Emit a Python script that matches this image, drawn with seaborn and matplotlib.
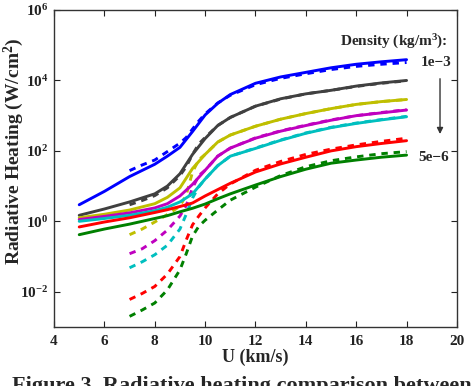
import numpy as np
import pandas as pd
import matplotlib
matplotlib.use("Agg")
import matplotlib.pyplot as plt
import seaborn as sns

# === Data (log10 of radiative heating, W/cm^2) ===
densities = ["1e-3", "5e-4", "2e-4", "1e-4", "5e-5", "1e-5", "5e-6"]
colors = ["#0000ff", "#404040", "#bfbf00", "#bf00bf", "#00bfbf", "#ff0000", "#008000"]

u_solid = [5, 6, 7, 8, 8.5, 9, 9.5, 10, 10.5, 11, 12, 13, 14, 15, 16, 17, 18]
solid_blue = [0.47, 0.85, 1.27, 1.62, 1.85, 2.1, 2.55, 3.02, 3.35, 3.6, 3.92, 4.1, 4.23, 4.36, 4.46, 4.53, 4.59]
solid_gray = [0.17, 0.35, 0.55, 0.78, 1.0, 1.35, 1.9, 2.35, 2.72, 2.95, 3.27, 3.48, 3.62, 3.72, 3.84, 3.93, 4.0]
solid_yellow = [0.1, 0.2, 0.32, 0.5, 0.68, 0.95, 1.5, 1.9, 2.25, 2.45, 2.7, 2.9, 3.06, 3.2, 3.32, 3.4, 3.46]
solid_magenta = [0.05, 0.14, 0.24, 0.38, 0.5, 0.72, 1.05, 1.45, 1.85, 2.08, 2.36, 2.56, 2.72, 2.87, 3.0, 3.08, 3.16]
solid_cyan = [0.0, 0.08, 0.17, 0.3, 0.4, 0.55, 0.78, 1.2, 1.58, 1.85, 2.07, 2.3, 2.5, 2.66, 2.78, 2.88, 2.97]
solid_red = [-0.16, -0.02, 0.1, 0.25, 0.33, 0.42, 0.52, 0.72, 0.9, 1.08, 1.4, 1.63, 1.82, 2.0, 2.12, 2.21, 2.29]
solid_green = [-0.38, -0.22, -0.08, 0.08, 0.16, 0.27, 0.37, 0.49, 0.64, 0.78, 1.03, 1.27, 1.48, 1.65, 1.74, 1.82, 1.88]

u_dash = [7, 7.5, 8, 8.5, 9, 9.25, 9.5, 9.75, 10, 10.5, 11, 12, 13, 14, 15, 16, 17, 18]
dash_blue = [1.44, 1.6, 1.74, 1.98, 2.22, 2.38, 2.62, 2.85, 3.05, 3.36, 3.58, 3.88, 4.06, 4.19, 4.31, 4.4, 4.46, 4.51]
dash_gray = [0.47, 0.59, 0.73, 0.95, 1.3, 1.55, 1.9, 2.2, 2.38, 2.72, 2.95, 3.27, 3.47, 3.62, 3.72, 3.83, 3.92, 3.99]
dash_yellow = [-0.38, -0.22, -0.02, 0.19, 0.43, 0.75, 1.4, 1.75, 1.9, 2.25, 2.45, 2.7, 2.9, 3.06, 3.2, 3.32, 3.4, 3.46]
dash_magenta = [-0.92, -0.78, -0.55, -0.25, 0.15, 0.45, 0.95, 1.3, 1.45, 1.85, 2.08, 2.37, 2.57, 2.73, 2.88, 3.0, 3.09, 3.17]
dash_cyan = [-1.32, -1.15, -0.95, -0.68, -0.22, 0.2, 0.66, 0.98, 1.2, 1.58, 1.85, 2.08, 2.31, 2.51, 2.67, 2.79, 2.89, 2.98]
dash_red = [-2.22, -2.05, -1.85, -1.5, -1.0, -0.53, -0.1, 0.15, 0.38, 0.78, 1.06, 1.45, 1.7, 1.9, 2.05, 2.17, 2.27, 2.36]
dash_green = [-2.7, -2.52, -2.32, -1.95, -1.38, -0.92, -0.42, -0.14, 0.03, 0.32, 0.6, 0.97, 1.3, 1.55, 1.72, 1.83, 1.92, 1.98]

solid = [solid_blue, solid_gray, solid_yellow, solid_magenta, solid_cyan, solid_red, solid_green]
dashed = [dash_blue, dash_gray, dash_yellow, dash_magenta, dash_cyan, dash_red, dash_green]

# === Long-form table ===
rows = []
for rho, s, d in zip(densities, solid, dashed):
    for u, q in zip(u_solid, s):
        rows.append((u, 10.0 ** q, rho, "solid"))
    for u, q in zip(u_dash, d):
        rows.append((u, 10.0 ** q, rho, "dashed"))
df = pd.DataFrame(rows, columns=["U", "Q", "density", "model"])

# === Style ===
sns.set_style("ticks")
plt.rcParams["font.family"] = ["Liberation Serif", "DejaVu Serif"]
plt.rcParams["font.weight"] = "bold"
plt.rcParams["mathtext.fontset"] = "custom"
plt.rcParams["mathtext.rm"] = "Liberation Serif:bold"
plt.rcParams["mathtext.it"] = "Liberation Serif:italic:bold"
plt.rcParams["mathtext.bf"] = "Liberation Serif:bold"
plt.rcParams["mathtext.default"] = "rm"

fig = plt.figure(figsize=(4.74, 3.86), dpi=100)
ax = fig.add_axes([0.114, 0.153, 0.85, 0.821])

sns.lineplot(data=df, x="U", y="Q", hue="density", style="model",
             hue_order=densities, palette=colors,
             style_order=["solid", "dashed"],
             dashes={"solid": "", "dashed": (2.2, 2.0)},
             linewidth=2.1, legend=False, errorbar=None, ax=ax)

ax.set_yscale("log")
ax.set_xlim(4, 20)
ax.set_ylim(1e-3, 1e6)
ax.set_xticks(range(4, 21, 2))
ax.set_yticks([1e-2, 1e0, 1e2, 1e4, 1e6])
ax.set_yticklabels(["$10^{-2}$", "$10^{0}$", "$10^{2}$", "$10^{4}$", "$10^{6}$"])
ax.minorticks_off()
ax.tick_params(direction="in", top=True, right=True, length=4, width=0.8,
               labelsize=11, colors="#222222")
ax.tick_params(axis="x", pad=6)
ax.tick_params(axis="y", pad=4)
for sp in ax.spines.values():
    sp.set_color("#333333")
    sp.set_linewidth(1.0)
    sp.set_visible(True)

ax.set_xlabel("U (km/s)", fontsize=13, fontweight="bold", labelpad=0)
ax.set_ylabel("Radiative Heating (W/cm$^2$)", fontsize=14, fontweight="bold")
ax.yaxis.set_label_coords(-0.07, 0.555)

# === Density annotation ===
ax.text(0.978, 0.899, "Density (kg/m$^3$):", transform=ax.transAxes,
        ha="right", va="center", fontsize=11, fontweight="bold")
ax.text(0.948, 0.836, "1e\u22123", transform=ax.transAxes,
        ha="center", va="center", fontsize=11, fontweight="bold")
ax.text(0.943, 0.536, "5e\u22126", transform=ax.transAxes,
        ha="center", va="center", fontsize=11, fontweight="bold")
ax.annotate("", xy=(0.958, 0.6), xytext=(0.958, 0.792), xycoords="axes fraction",
            arrowprops=dict(arrowstyle="-|>", color="#333333", lw=1.0,
                            mutation_scale=9))

fig.text(0.025, -0.012, "Figure 3. Radiative heating comparison between",
         fontsize=16, fontweight="bold", va="baseline", ha="left")

fig.savefig("out.png", dpi=100)
